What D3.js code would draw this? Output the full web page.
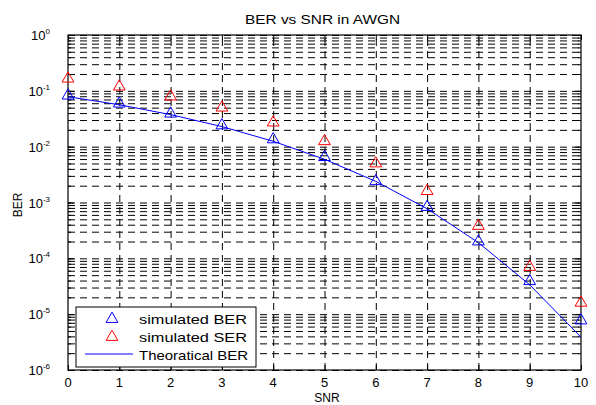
<!DOCTYPE html>
<html>
<head>
<meta charset="utf-8">
<script src="https://cdn.jsdelivr.net/npm/d3@7"></script>
<style>
  body { margin: 0; background: #fff; }
  svg { display: block; font-family: "Liberation Sans", Arial, sans-serif; }
</style>
</head>
<body>
<div id="chart"></div>
<script>
// values
var snr = [0, 1, 2, 3, 4, 5, 6, 7, 8, 9, 10];
var simBER = [0.082, 0.059, 0.039, 0.024, 0.0135, 0.0065, 0.0024, 0.00083, 0.0002, 3.9e-5, 7.7e-6];
var simSER = [0.165, 0.119, 0.079, 0.050, 0.027, 0.0125, 0.0050, 0.0016, 3.8e-4, 7e-5, 1.6e-5];
var theoBER = [0.0786, 0.0563, 0.0375, 0.0229, 0.0125, 0.00595, 0.00239, 7.73e-4, 1.91e-4, 3.36e-5, 3.87e-6];
var decades = [-6, -5, -4, -3, -2, -1, 0];
var legendLabels = ["simulated BER", "simulated SER", "Theoratical BER"];

var W = 596, H = 405;
// plot box edges (note: "top" is taken by window.top)
var pLeft = 68, pRight = 581, pTop = 35, pBottom = 370;

var svg = d3.select("#chart").append("svg").attr("width", W).attr("height", H);

var x = d3.scaleLinear().domain([0, 10]).range([pLeft, pRight]);
var y = d3.scaleLog().domain([1e-6, 1]).range([pBottom, pTop]);

// all log grid positions (1..9 times each decade)
var minorVals = [];
decades.slice(0, -1).forEach(function(k) {
	for (var m = 1; m <= 9; m++) minorVals.push(m * Math.pow(10, k));
});
minorVals.push(1);
var majorVals = decades.map(function(k) { return Math.pow(10, k); });

// dashed grid, horizontal
svg.append("g")
	.attr("transform", "translate(" + pLeft + ",0)")
	.call(d3.axisLeft(y).tickValues(minorVals).tickSize(-(pRight - pLeft)).tickFormat(""))
	.call(function(g) {
		g.select(".domain").remove();
		g.selectAll("line").attr("stroke", "#000").attr("stroke-dasharray", "7,5");
	});

// dashed grid, vertical
svg.append("g")
	.attr("transform", "translate(0," + pBottom + ")")
	.call(d3.axisBottom(x).tickValues(snr.slice(1, -1)).tickSize(-(pBottom - pTop)).tickFormat(""))
	.call(function(g) {
		g.select(".domain").remove();
		g.selectAll("line").attr("stroke", "#000").attr("stroke-dasharray", "7,5");
	});

// inward ticks on all four sides
function tickStyle(g) {
	g.select(".domain").remove();
	g.selectAll("line").attr("stroke", "#000");
}
svg.append("g").attr("transform", "translate(" + pLeft + ",0)")
	.call(d3.axisLeft(y).tickValues(minorVals).tickSize(-3).tickFormat("")).call(tickStyle);
svg.append("g").attr("transform", "translate(" + pLeft + ",0)")
	.call(d3.axisLeft(y).tickValues(majorVals).tickSize(-6).tickFormat("")).call(tickStyle);
svg.append("g").attr("transform", "translate(" + pRight + ",0)")
	.call(d3.axisRight(y).tickValues(minorVals).tickSize(-3).tickFormat("")).call(tickStyle);
svg.append("g").attr("transform", "translate(" + pRight + ",0)")
	.call(d3.axisRight(y).tickValues(majorVals).tickSize(-6).tickFormat("")).call(tickStyle);
svg.append("g").attr("transform", "translate(0," + pBottom + ")")
	.call(d3.axisBottom(x).tickValues(snr).tickSize(-5).tickFormat("")).call(tickStyle);
svg.append("g").attr("transform", "translate(0," + pTop + ")")
	.call(d3.axisTop(x).tickValues(snr).tickSize(-5).tickFormat("")).call(tickStyle);

// box
svg.append("rect")
	.attr("x", pLeft).attr("y", pTop)
	.attr("width", pRight - pLeft).attr("height", pBottom - pTop)
	.attr("fill", "none").attr("stroke", "#000").attr("stroke-width", 1.2);

// x tick labels
svg.append("g").selectAll("text").data(snr).enter().append("text")
	.attr("x", function(d) { return x(d); })
	.attr("y", pBottom + 17)
	.attr("text-anchor", "middle")
	.attr("font-size", 13)
	.text(function(d) { return d; });

// y tick labels 10^k
var ylab = svg.append("g").selectAll("text").data(decades).enter().append("text")
	.attr("x", pLeft - 18)
	.attr("y", function(d) { return y(Math.pow(10, d)) + 5; })
	.attr("text-anchor", "end")
	.attr("font-size", 13);
ylab.append("tspan").text("10");
ylab.append("tspan").attr("dy", -6).attr("font-size", 8).text(function(d) { return d; });

// theoretical line
var line = d3.line()
	.x(function(d, i) { return x(snr[i]); })
	.y(function(d) { return y(d); });
svg.append("path").datum(theoBER)
	.attr("d", line)
	.attr("fill", "none").attr("stroke", "#0000ff").attr("stroke-width", 1);

var tri = d3.symbol().type(d3.symbolTriangle).size(60);

svg.append("g").selectAll("path").data(simSER).enter().append("path")
	.attr("d", tri)
	.attr("transform", function(d, i) { return "translate(" + x(snr[i]) + "," + y(d) + ")"; })
	.attr("fill", "none").attr("stroke", "#ff0000").attr("stroke-width", 1);

svg.append("g").selectAll("path").data(simBER).enter().append("path")
	.attr("d", tri)
	.attr("transform", function(d, i) { return "translate(" + x(snr[i]) + "," + y(d) + ")"; })
	.attr("fill", "none").attr("stroke", "#0000ff").attr("stroke-width", 1);

// title and axis labels (the source text is drawn wide, hence textLength)
svg.append("text").attr("x", 245).attr("y", 24)
	.attr("font-size", 13).attr("textLength", 155).attr("lengthAdjust", "spacingAndGlyphs")
	.text("BER vs SNR in AWGN");
svg.append("text").attr("x", 327).attr("y", 402).attr("text-anchor", "middle")
	.attr("font-size", 12).text("SNR");
svg.append("text").attr("transform", "translate(22,205) rotate(-90)")
	.attr("text-anchor", "middle").attr("font-size", 12).text("BER");

// legend
var lg = svg.append("g").attr("transform", "translate(76,307)");
lg.append("rect").attr("width", 180).attr("height", 60)
	.attr("fill", "#fff").attr("stroke", "#000").attr("stroke-width", 1);
lg.append("path").attr("d", tri).attr("transform", "translate(36,12)")
	.attr("fill", "none").attr("stroke", "#0000ff");
lg.append("path").attr("d", tri).attr("transform", "translate(36,30)")
	.attr("fill", "none").attr("stroke", "#ff0000");
lg.append("line").attr("x1", 9).attr("x2", 57).attr("y1", 47).attr("y2", 47)
	.attr("stroke", "#0000ff");
lg.selectAll("text.lbl").data(legendLabels).enter().append("text")
	.attr("class", "lbl")
	.attr("x", 63)
	.attr("y", function(d, i) { return 17 + i * 18; })
	.attr("font-size", 13)
	.attr("textLength", function(d, i) { return i === 2 ? 109 : 108; })
	.attr("lengthAdjust", "spacingAndGlyphs")
	.text(function(d) { return d; });
</script>
</body>
</html>
